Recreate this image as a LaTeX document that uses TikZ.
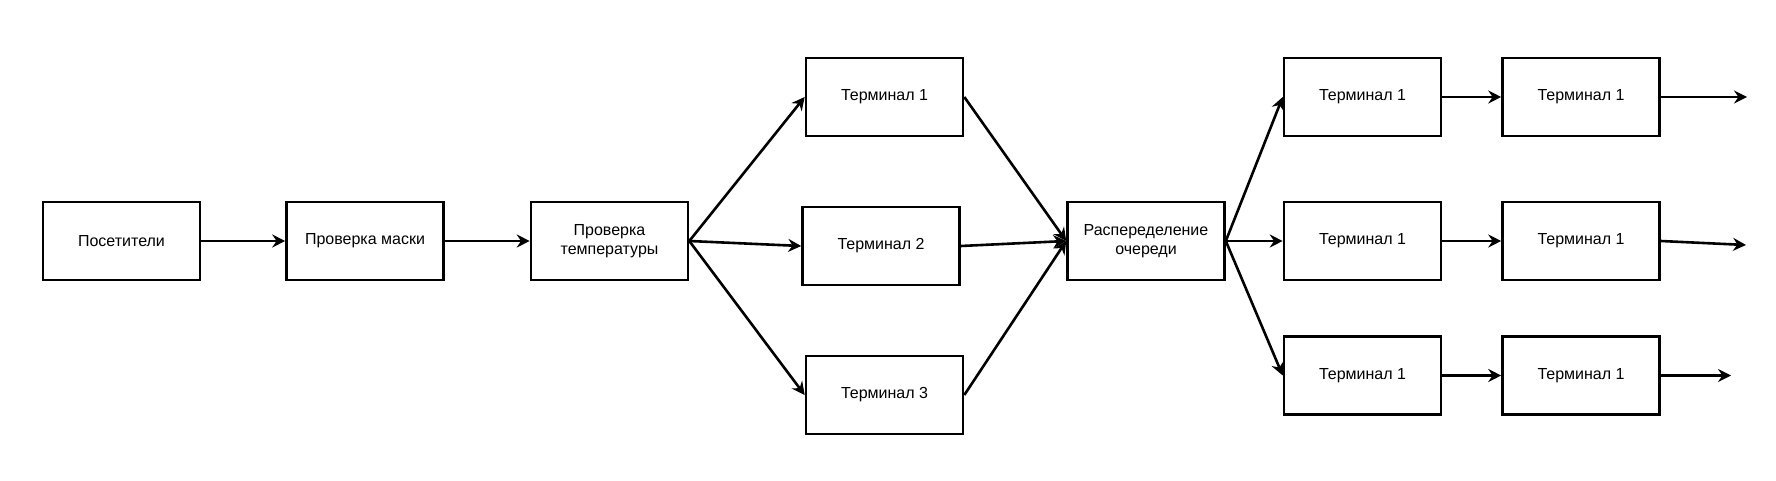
\documentclass[tikz,border=0pt]{standalone}
\usepackage{fontspec}
\setmainfont{Liberation Sans}
\usetikzlibrary{arrows.meta}

\begin{document}
\begin{tikzpicture}[x=0.5pt, y=-0.5pt, line width=1.3pt,
  >={Stealth[length=6.5pt, width=6.5pt, inset=2.2pt]},
  block/.style={draw, rectangle, minimum width=78.5pt, minimum height=39pt,
    align=center, font=\fontsize{8}{9.5}\selectfont, inner sep=1pt}]
  % canvas
  \useasboundingbox (0,0) rectangle (1776,481);

  % entry chain
  \node[block] (guests) at (121.5,241) {Посетители};
  \node[block] (mask) at (365,241) {Проверка маски};
  \node[block] (temp) at (609.5,241) {Проверка\\температуры};

  % first terminals
  \node[block] (termA) at (884.5,97) {Терминал 1};
  \node[block] (termB) at (881,246) {Терминал 2};
  \node[block] (termC) at (884.5,395) {Терминал 3};

  % queue distribution
  \node[block] (queue) at (1146,241) {Распеределение\\очереди};

  % second terminals, two columns
  \node[block] (rowA1) at (1362.5,97) {Терминал 1};
  \node[block] (rowB1) at (1362.5,241) {Терминал 1};
  \node[block] (rowC1) at (1362.5,375.5) {Терминал 1};
  \node[block] (rowA2) at (1581,97) {Терминал 1};
  \node[block] (rowB2) at (1581,241) {Терминал 1};
  \node[block] (rowC2) at (1581,375.5) {Терминал 1};

  % free ends of the exits
  \coordinate (outA) at (1747,97);
  \coordinate (outB) at (1746,245);
  \coordinate (outC) at (1731,375.5);

  % connectors
  \draw[->] (guests) -- (mask);
  \draw[->] (mask) -- (temp);
  \draw[->] (temp.east) -- (termA.west);
  \draw[->] (temp.east) -- (termB.west);
  \draw[->] (temp.east) -- (termC.west);
  \draw[->] (termA.east) -- (queue.west);
  \draw[->] (termB.east) -- (queue.west);
  \draw[->] (termC.east) -- (queue.west);
  \draw[->] (queue.east) -- (rowA1.west);
  \draw[->] (queue.east) -- (rowB1.west);
  \draw[->] (queue.east) -- (rowC1.west);
  \draw[->] (rowA1) -- (rowA2);
  \draw[->] (rowB1) -- (rowB2);
  \draw[->] (rowC1) -- (rowC2);
  \draw[->] (rowA2.east) -- (outA);
  \draw[->] (rowB2.east) -- (outB);
  \draw[->] (rowC2.east) -- (outC);
\end{tikzpicture}
\end{document}
